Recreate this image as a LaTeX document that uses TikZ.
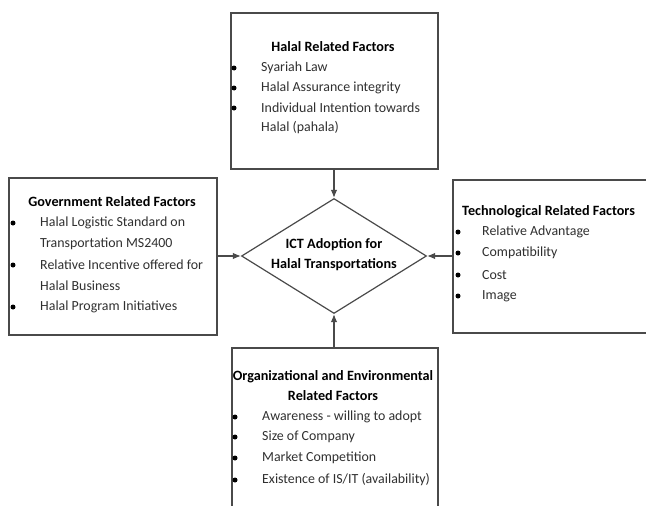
\documentclass[tikz,border=0pt]{standalone}
\usepackage{fontspec}
\setmainfont{Carlito}
\usetikzlibrary{shapes.geometric,arrows.meta}
\definecolor{lineg}{HTML}{4A4A4A}
\definecolor{txtg}{HTML}{303030}
\begin{document}
\begin{tikzpicture}[x=1pt,y=-1pt,
  factorbox/.style={draw=lineg, line width=1.5pt, fill=white, inner sep=0pt, anchor=north west},
  ttl/.style={font=\fontsize{14.2}{17}\selectfont\bfseries, text=black, inner sep=0pt},
  itm/.style={font=\fontsize{13.9}{17}\selectfont, text=txtg, anchor=west, inner sep=0pt},
  bul/.style={circle, fill=black, inner sep=0pt, minimum size=5pt},
  conn/.style={draw=lineg, line width=1.2pt, -{Latex[length=8pt,width=6.5pt]}}]
\useasboundingbox (0,0) rectangle (646,506);
\clip (0,0) rectangle (646,506);

% boxes
\node[factorbox, minimum width=207pt, minimum height=156pt] (halal) at (230,12) {};
\node[factorbox, minimum width=208pt, minimum height=157pt] (gov) at (8,177) {};
\node[factorbox, minimum width=230pt, minimum height=153pt] (tech) at (452,179) {};
\node[factorbox, minimum width=206pt, minimum height=175pt] (org) at (231,347) {};

% central diamond
\node[diamond, draw=lineg, line width=1.2pt, minimum width=185pt, minimum height=115pt, inner sep=0pt, aspect=1.6] (ict) at (334,256) {};
\node[ttl, align=center, font=\fontsize{14.2}{20}\selectfont\bfseries] (ictlabel) at (334,255) {ICT Adoption for\\Halal Transportations};

% Halal related factors
\node[ttl] (halaltitle) at (333,47) {Halal Related Factors};
\node[bul] (hb1) at (234,68) {};
\node[itm] (h1) at (261,68) {Syariah Law};
\node[bul] (hb2) at (234,88) {};
\node[itm] (h2) at (261,88) {Halal Assurance integrity};
\node[bul] (hb3) at (234,108) {};
\node[itm] (h3) at (261,108) {Individual Intention towards};
\node[itm] (h3b) at (261,128) {Halal (pahala)};

% Government related factors
\node[ttl] (govtitle) at (112,202) {Government Related Factors};
\node[bul] (gb1) at (13,223) {};
\node[itm] (g1) at (40,223) {Halal Logistic Standard on};
\node[itm] (g1b) at (40,244) {Transportation MS2400};
\node[bul] (gb2) at (13,265) {};
\node[itm] (g2) at (40,265) {Relative Incentive offered for};
\node[itm] (g2b) at (40,286) {Halal Business};
\node[bul] (gb3) at (13,307) {};
\node[itm] (g3) at (40,307) {Halal Program Initiatives};

% Technological related factors
\node[ttl, anchor=west] (techtitle) at (462,212) {Technological Related Factors};
\node[bul] (tb1) at (458,232) {};
\node[itm] (t1) at (482,232) {Relative Advantage};
\node[bul] (tb2) at (458,253) {};
\node[itm] (t2) at (482,253) {Compatibility};
\node[bul] (tb3) at (458,275) {};
\node[itm] (t3) at (482,275) {Cost};
\node[bul] (tb4) at (458,296) {};
\node[itm] (t4) at (482,296) {Image};

% Organizational and environmental related factors
\node[ttl] (orgtitle) at (333,377) {Organizational and Environmental};
\node[ttl] (orgtitleb) at (333,396) {Related Factors};
\node[bul] (ob1) at (235,417) {};
\node[itm] (o1) at (262,417) {Awareness - willing to adopt};
\node[bul] (ob2) at (235,437) {};
\node[itm] (o2) at (262,437) {Size of Company};
\node[bul] (ob3) at (235,458) {};
\node[itm] (o3) at (262,458) {Market Competition};
\node[bul] (ob4) at (235,480) {};
\node[itm] (o4) at (262,480) {Existence of IS/IT (availability)};

% connectors
\draw[conn] (ict.north |- halal.south) -- (ict.north);
\draw[conn] (ict.south |- org.north) -- (ict.south);
\draw[conn] (gov.east |- ict.west) -- (ict.west);
\draw[conn] (tech.west |- ict.east) -- (ict.east);
\end{tikzpicture}
\end{document}
